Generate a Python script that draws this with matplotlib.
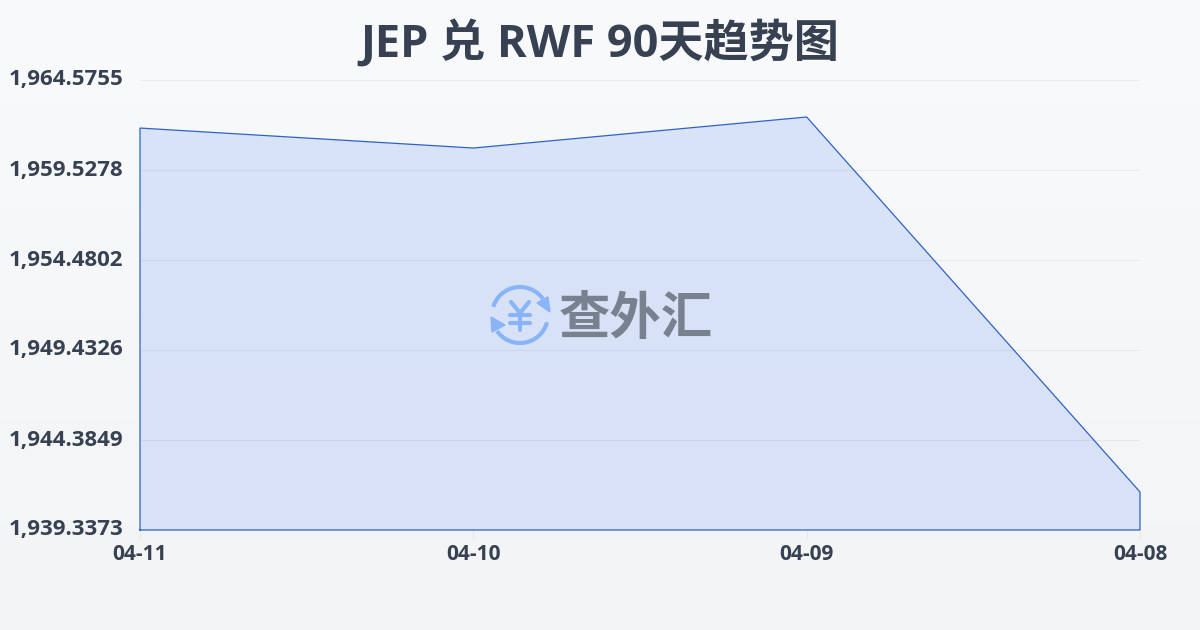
from matplotlib import pyplot as plt
from matplotlib.colors import LinearSegmentedColormap
from matplotlib.patches import Arc, Polygon
import numpy as np

plt.rcParams['font.family'] = ['Open Sans', 'Noto Sans CJK SC', 'DejaVu Sans']

dates = ['04-11', '04-10', '04-09', '04-08']
rates = [1961.88, 1960.76, 1962.50, 1941.47]
y_ticks = [1939.3373, 1944.3849, 1949.4326, 1954.4802, 1959.5278, 1964.5755]
y_labels = ['1,939.3373', '1,944.3849', '1,949.4326', '1,954.4802', '1,959.5278', '1,964.5755']

W, H = 1200, 630
text_color = '#374151'
line_color = '#2f62c8'

fig = plt.figure(figsize=(W / 100, H / 100), dpi=100)

# page background, light vertical gradient
bg = fig.add_axes([0, 0, 1, 1], zorder=0)
bg.imshow(np.linspace(0, 1, 256).reshape(-1, 1), aspect='auto', extent=(0, W, H, 0),
          cmap=LinearSegmentedColormap.from_list('bg', ['#f8fafc', '#f3f4f6']))
bg.set_xlim(0, W)
bg.set_ylim(H, 0)
bg.axis('off')

ax = fig.add_axes([140 / W, 1 - 530 / H, 1000 / W, 450 / H], zorder=1)
ax.patch.set_alpha(0)
x = np.arange(len(dates))

# area fill fades a little towards the bottom
cmap = LinearSegmentedColormap.from_list('fill', ['#d8e4f8', '#d9e1f5'])
im = ax.imshow(np.linspace(0, 1, 256).reshape(-1, 1), aspect='auto', cmap=cmap, zorder=1,
               extent=(0, len(dates) - 1, y_ticks[0], y_ticks[-1]))
clip = Polygon(list(zip(x, rates)) + [(x[-1], y_ticks[0]), (x[0], y_ticks[0])],
               closed=True, transform=ax.transData, fc='none', ec='none')
ax.add_patch(clip)
im.set_clip_path(clip)
ax.set_xlim(0, len(dates) - 1)
ax.set_ylim(y_ticks[0], y_ticks[-1])

ax.grid(axis='y', color='black', alpha=0.05, lw=0.8)
ax.set_axisbelow(False)
ax.plot(np.r_[x[0], x, x[-1], x[0]], np.r_[y_ticks[0], rates, y_ticks[0], y_ticks[0]],
        color=line_color, lw=0.9, zorder=3, clip_on=False, solid_joinstyle='miter')

for s in ax.spines.values():
    s.set_visible(False)
ax.set_xticks(x)
ax.set_xticklabels(dates, fontsize=15, fontweight='bold', color=text_color)
ax.set_yticks(y_ticks)
ax.set_yticklabels(y_labels, fontsize=16, fontweight='bold', color=text_color, va='center')
ax.tick_params(axis='x', length=6, width=0.8, color='#e5e7eb', pad=4)
ax.tick_params(axis='y', length=0, pad=12)

bg.text(W / 2, 45, 'JEP 兑 RWF 90天趋势图', ha='center', va='center',
        fontsize=32.5, fontweight='bold', color=text_color)

# watermark: icon + name
over = fig.add_axes([0, 0, 1, 1], zorder=2)
over.set_xlim(0, W)
over.set_ylim(H, 0)
over.axis('off')
blue = '#8ab4f8'
cx, cy, r = 520, 315, 28
over.add_patch(Arc((cx, cy), 2 * r, 2 * r, theta1=197, theta2=325, color=blue, lw=3))
over.add_patch(Arc((cx, cy), 2 * r, 2 * r, theta1=15, theta2=145, color=blue, lw=3))
over.add_patch(Polygon([(548, 297), (550, 312), (537, 303)], closed=True, fc=blue, ec=blue, lw=1))
over.add_patch(Polygon([(491, 317), (492, 332), (505, 325)], closed=True, fc=blue, ec=blue, lw=1))
for xs, ys in [((511, 520, 529), (302, 313, 302)), ((520, 520), (313, 330)),
               ((510, 530), (315, 315)), ((510, 530), (323, 323))]:
    over.plot(xs, ys, color=blue, lw=3, solid_capstyle='round')
over.text(636, 321, '查外汇', ha='center', va='center', fontsize=37, fontweight='bold', color='#78818f')

fig.savefig('out.png', dpi=100)
